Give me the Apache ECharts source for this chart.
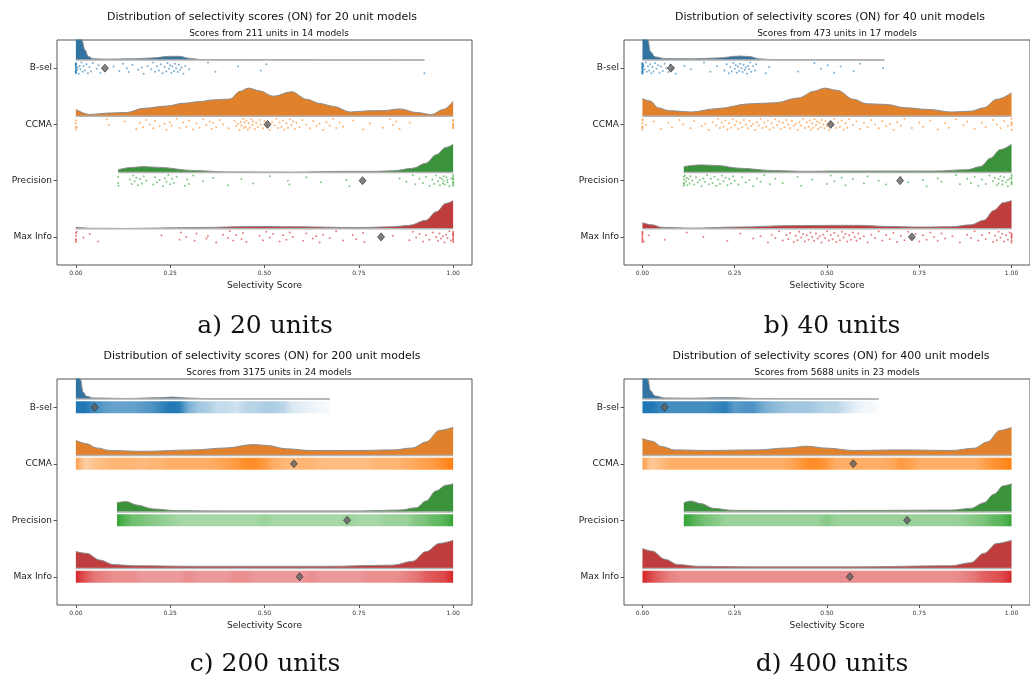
<!DOCTYPE html>
<html>
<head>
<meta charset="utf-8">
<script src="https://cdn.jsdelivr.net/npm/echarts@6/dist/echarts.min.js"></script>
<style>
  html, body { margin: 0; padding: 0; background: #fff; }
  #chart { width: 1030px; height: 675px; }
</style>
</head>
<body>
<div id="chart"></div>
<script>
// 行名 / 刻度
var rows = ['B-sel', 'CCMA', 'Precision', 'Max Info']
var xTicks = [0, 0.25, 0.5, 0.75, 1]
var binX = [0, .025, .05, .075, .1, .125, .15, .175, .2, .225, .25, .275, .3, .325, .35, .375, .4, .425, .45, .475, .5,
  .525, .55, .575, .6, .625, .65, .675, .7, .725, .75, .775, .8, .825, .85, .875, .9, .925, .95, .975, 1]

// 云图 (score, 相对高度)
// a) 20 units
var cloudA_bsel = [[0, 1], [0.01, 0.85], [0.016, 0.7], [0.024, 0.36], [0.033, 0.12], [0.046, 0.04], [0.08, 0.03], [0.15, 0.04], [0.2, 0.07], [0.25, 0.13], [0.275, 0.13], [0.3, 0.06], [0.33, 0.015], [0.5, 0.01], [0.7, 0.003], [0.924, 0]]
var cloudA_ccma = [[0, 0.24], [0.037, 0.06], [0.081, 0.11], [0.134, 0.13], [0.179, 0.28], [0.24, 0.36], [0.285, 0.46], [0.329, 0.52], [0.364, 0.58], [0.408, 0.61], [0.435, 0.88], [0.457, 1], [0.488, 0.9], [0.523, 0.71], [0.572, 0.87], [0.612, 0.6], [0.647, 0.45], [0.683, 0.35], [0.727, 0.15], [0.771, 0.19], [0.815, 0.2], [0.859, 0.26], [0.904, 0.13], [0.943, 0.06], [0.974, 0.24], [1, 0.53]]
var cloudA_prec = [[0.112, 0.1], [0.15, 0.18], [0.178, 0.21], [0.222, 0.18], [0.311, 0.07], [0.399, 0.02], [0.575, 0.01], [0.708, 0.04], [0.796, 0.04], [0.84, 0.06], [0.893, 0.15], [0.928, 0.33], [0.955, 0.63], [0.981, 0.89], [1, 1]]
var cloudA_max = [[0, 0.05], [0.046, 0.015], [0.134, 0.01], [0.311, 0.04], [0.487, 0.08], [0.575, 0.07], [0.752, 0.04], [0.84, 0.07], [0.884, 0.12], [0.928, 0.3], [0.955, 0.6], [0.981, 0.9], [1, 1]]
// b) 40 units
var cloudB_bsel = [[0, 1], [0.015, 0.71], [0.021, 0.31], [0.034, 0.11], [0.061, 0.05], [0.131, 0.04], [0.202, 0.07], [0.264, 0.14], [0.29, 0.12], [0.317, 0.04], [0.352, 0.01], [0.5, 0.005], [0.656, 0]]
var cloudB_ccma = [[0, 0.63], [0.021, 0.54], [0.043, 0.3], [0.07, 0.2], [0.131, 0.15], [0.202, 0.27], [0.29, 0.44], [0.361, 0.48], [0.422, 0.65], [0.466, 0.89], [0.493, 1], [0.528, 0.92], [0.572, 0.6], [0.608, 0.44], [0.66, 0.42], [0.713, 0.3], [0.775, 0.24], [0.837, 0.15], [0.89, 0.18], [0.925, 0.3], [0.96, 0.6], [1, 0.83]]
var cloudB_prec = [[0.112, 0.21], [0.158, 0.27], [0.202, 0.25], [0.264, 0.15], [0.352, 0.07], [0.44, 0.04], [0.528, 0.05], [0.66, 0.05], [0.793, 0.05], [0.881, 0.1], [0.916, 0.21], [0.943, 0.51], [0.969, 0.81], [1, 1]]
var cloudB_max = [[0, 0.21], [0.026, 0.14], [0.052, 0.05], [0.131, 0.02], [0.264, 0.06], [0.396, 0.11], [0.528, 0.12], [0.59, 0.12], [0.66, 0.08], [0.749, 0.06], [0.837, 0.07], [0.89, 0.14], [0.925, 0.3], [0.952, 0.65], [0.978, 0.93], [1, 1]]
// c) 200 units
var cloudC_bsel = [[0, 1], [0.012, 0.71], [0.019, 0.25], [0.028, 0.1], [0.046, 0.04], [0.134, 0.02], [0.222, 0.05], [0.258, 0.07], [0.293, 0.04], [0.355, 0.01], [0.673, 0]]
var cloudC_ccma = [[0, 0.54], [0.028, 0.42], [0.055, 0.27], [0.09, 0.18], [0.178, 0.15], [0.311, 0.2], [0.399, 0.27], [0.47, 0.39], [0.505, 0.36], [0.558, 0.24], [0.62, 0.18], [0.752, 0.18], [0.84, 0.2], [0.893, 0.27], [0.928, 0.48], [0.964, 0.89], [1, 1]]
var cloudC_prec = [[0.109, 0.33], [0.134, 0.37], [0.161, 0.25], [0.205, 0.11], [0.267, 0.05], [0.399, 0.04], [0.575, 0.04], [0.752, 0.04], [0.858, 0.07], [0.902, 0.15], [0.928, 0.39], [0.955, 0.75], [0.981, 0.95], [1, 1]]
var cloudC_max = [[0, 0.6], [0.028, 0.54], [0.064, 0.3], [0.099, 0.14], [0.152, 0.1], [0.311, 0.08], [0.487, 0.08], [0.664, 0.08], [0.84, 0.12], [0.893, 0.26], [0.928, 0.6], [0.964, 0.89], [1, 1]]
// d) 400 units
var cloudD_bsel = [[0, 1], [0.015, 0.71], [0.021, 0.31], [0.034, 0.11], [0.061, 0.04], [0.131, 0.03], [0.22, 0.05], [0.246, 0.05], [0.308, 0.02], [0.45, 0.01], [0.64, 0]]
var cloudD_ccma = [[0, 0.6], [0.026, 0.51], [0.052, 0.32], [0.087, 0.2], [0.175, 0.18], [0.308, 0.2], [0.396, 0.27], [0.444, 0.33], [0.502, 0.26], [0.572, 0.18], [0.705, 0.2], [0.837, 0.18], [0.899, 0.26], [0.934, 0.48], [0.969, 0.89], [1, 1]]
var cloudD_prec = [[0.112, 0.33], [0.131, 0.39], [0.158, 0.3], [0.193, 0.13], [0.246, 0.06], [0.396, 0.05], [0.66, 0.06], [0.837, 0.07], [0.89, 0.13], [0.925, 0.33], [0.952, 0.63], [0.978, 0.93], [1, 1]]
var cloudD_max = [[0, 0.71], [0.026, 0.62], [0.061, 0.33], [0.096, 0.14], [0.149, 0.08], [0.308, 0.06], [0.572, 0.06], [0.837, 0.1], [0.89, 0.21], [0.925, 0.54], [0.96, 0.89], [1, 1]]

// 散点 (a, b)
var ptsA_bsel = [0, 0, 0, 0, 0, 0, 0, 0, 0, 0, 0, 0, 0, 0, 0, .003, .005, .008, .01, .012, .015, .018, .02, .024, .028, .032, .036, .04, .045, .055, .06, .065, .1, .115, .125, .135, .14, .15, .165, .175, .18, .19, .2, .205, .21, .215, .22, .225, .23, .235, .24, .243, .247, .25, .253, .256, .26, .263, .266, .27, .273, .276, .28, .285, .29, .3, .35, .37, .43, .49, .505, .924]
var ptsA_ccma = [0, 0, 0, 0, .003, .082, .087, .13, .16, .17, .178, .187, .196, .205, .21, .222, .235, .24, .249, .253, .267, .275, .284, .293, .3, .311, .32, .328, .337, .346, .355, .36, .364, .372, .381, .39, .405, .421, .425, .43, .434, .437, .439, .443, .445, .447, .45, .452, .456, .458, .461, .465, .468, .47, .474, .478, .482, .487, .49, .496, .5, .505, .51, .514, .52, .527, .532, .536, .54, .545, .549, .553, .558, .562, .567, .571, .576, .58, .585, .593, .6, .611, .62, .629, .638, .646, .655, .664, .673, .682, .69, .699, .708, .735, .761, .779, .814, .832, .84, .849, .858, .885, 1, 1, 1, 1, 1, 1, 1]
var ptsA_prec = [.112, .112, .113, .143, .148, .152, .156, .16, .165, .17, .175, .18, .187, .205, .21, .215, .222, .231, .236, .24, .245, .25, .255, .26, .267, .289, .295, .3, .311, .337, .364, .403, .439, .47, .514, .562, .566, .611, .65, .717, .725, .858, .876, .893, .9, .911, .92, .928, .937, .945, .95, .955, .96, .965, .965, .97, .973, .975, .975, .978, .982, .985, .985, .99, .995, 1, 1, 1, 1, 1, 1, 1, 1]
var ptsA_max = [0, 0, 0, 0, 0, .002, .02, .037, .059, .227, .275, .279, .293, .315, .32, .346, .35, .372, .39, .403, .408, .417, .425, .439, .443, .452, .487, .496, .505, .514, .523, .54, .549, .558, .567, .575, .602, .611, .628, .637, .646, .655, .673, .69, .708, .734, .743, .761, .765, .84, .884, .893, .902, .911, .92, .928, .937, .946, .955, .96, .964, .968, .973, .977, .981, .985, .99, .994, 1, 1, 1, 1, 1, 1, 1, 1, 1]
var ptsB_bsel = [0, 0, 0, 0, 0, 0, 0, 0, 0, 0, 0, 0, 0, 0, 0, 0, 0, 0, .003, .006, .009, .012, .015, .018, .021, .024, .027, .03, .034, .038, .042, .046, .05, .055, .06, .065, .07, .075, .08, .085, .09, .114, .131, .167, .184, .202, .222, .228, .234, .238, .242, .246, .25, .253, .256, .259, .262, .265, .268, .271, .274, .277, .28, .283, .286, .289, .292, .295, .3, .305, .308, .334, .343, .422, .466, .484, .502, .519, .537, .572, .59, .652]
var ptsB_ccma = [0, 0, 0, 0, 0, 0, .01, .03, .05, .07, .08, .1, .11, .13, .14, .16, .17, .18, .19, .2, .205, .21, .215, .22, .225, .23, .235, .24, .245, .25, .255, .26, .265, .27, .275, .28, .285, .29, .295, .3, .305, .31, .315, .32, .325, .33, .335, .34, .345, .35, .355, .36, .365, .37, .375, .38, .385, .39, .395, .4, .405, .41, .415, .42, .425, .43, .435, .44, .445, .45, .453, .456, .46, .463, .466, .47, .473, .476, .48, .483, .486, .49, .493, .496, .5, .503, .506, .51, .515, .52, .525, .53, .535, .54, .545, .55, .555, .56, .57, .58, .59, .6, .61, .62, .63, .64, .65, .66, .67, .68, .69, .7, .71, .73, .75, .76, .78, .8, .82, .83, .85, .87, .88, .9, .92, .93, .95, .96, .97, .98, .99, 1, 1, 1, 1, 1]
var ptsB_prec = [.112, .112, .112, .113, .113, .115, .118, .12, .122, .125, .128, .13, .135, .14, .145, .15, .155, .16, .165, .17, .175, .18, .185, .19, .195, .2, .205, .21, .215, .22, .225, .23, .235, .24, .245, .25, .26, .27, .28, .29, .3, .31, .32, .33, .345, .36, .38, .42, .43, .46, .5, .51, .52, .54, .55, .57, .6, .61, .64, .66, .7, .72, .76, .77, .8, .81, .85, .86, .88, .89, .9, .91, .92, .93, .94, .95, .955, .96, .965, .965, .97, .975, .975, .98, .985, .99, .99, .995, 1, 1, 1, 1, 1, 1]
var ptsB_max = [0, 0, 0, 0, 0, 0, 0, 0, .003, .017, .06, .12, .165, .23, .265, .3, .32, .34, .35, .36, .37, .38, .39, .395, .4, .41, .415, .42, .425, .43, .435, .44, .445, .45, .455, .46, .465, .47, .475, .48, .485, .49, .495, .5, .505, .51, .515, .52, .525, .53, .535, .54, .545, .55, .555, .56, .565, .57, .575, .58, .585, .59, .6, .61, .62, .63, .64, .65, .66, .67, .68, .69, .7, .71, .72, .73, .74, .75, .76, .77, .78, .79, .8, .81, .82, .84, .86, .88, .89, .9, .91, .92, .93, .94, .95, .955, .96, .965, .97, .975, .98, .985, .99, .995, 1, 1, 1, 1, 1, 1, 1]

// 密集散点带 (c, d): 每个 binX 的浓度
var binsC_bsel = [1, .95, .8, .7, .65, .65, .65, .7, .75, .85, .95, .9, .55, .4, .35, .25, .25, .2, .3, .3, .35, .35, .3, .15, .12, .08, .05, .03, 0, 0, 0, 0, 0, 0, 0, 0, 0, 0, 0, 0, 0]
var binsC_ccma = [.7, .35, .45, .5, .55, .55, .55, .5, .55, .55, .6, .6, .6, .6, .6, .65, .7, .75, .85, .85, .75, .6, .55, .5, .55, .55, .5, .5, .5, .5, .5, .5, .55, .55, .55, .6, .65, .7, .75, .85, .95]
var binsC_prec = [0, 0, 0, 0, .9, .8, .65, .6, .55, .5, .45, .4, .4, .4, .4, .4, .4, .4, .4, .4, .45, .4, .4, .4, .4, .4, .4, .4, .4, .45, .4, .4, .4, .45, .45, .45, .55, .6, .7, .75, .9]
var binsC_max = [.95, .75, .6, .55, .5, .5, .5, .45, .45, .45, .45, .45, .5, .45, .45, .45, .45, .5, .5, .45, .45, .45, .45, .45, .45, .5, .45, .45, .45, .45, .45, .5, .5, .5, .5, .55, .6, .7, .75, .8, .95]
var binsD_bsel = [1, .95, .85, .8, .8, .8, .8, .8, .85, .9, .7, .75, .75, .6, .5, .45, .4, .4, .4, .35, .3, .3, .2, .12, .06, .04, .02, 0, 0, 0, 0, 0, 0, 0, 0, 0, 0, 0, 0, 0, 0]
var binsD_ccma = [.7, .4, .5, .6, .6, .6, .6, .6, .6, .6, .6, .6, .6, .6, .6, .6, .65, .75, .85, .85, .75, .6, .6, .6, .6, .6, .6, .65, .75, .7, .6, .6, .6, .6, .6, .6, .6, .7, .8, .85, .95]
var binsD_prec = [0, 0, 0, 0, .9, .85, .7, .6, .55, .45, .45, .45, .45, .45, .45, .45, .45, .45, .45, .45, .55, .45, .45, .45, .45, .45, .45, .45, .45, .45, .45, .45, .45, .45, .45, .5, .55, .6, .7, .75, .9]
var binsD_max = [1, .8, .65, .55, .5, .5, .5, .5, .5, .5, .5, .5, .5, .5, .5, .5, .5, .5, .5, .5, .5, .5, .5, .5, .5, .5, .5, .5, .5, .5, .5, .5, .5, .5, .5, .55, .6, .7, .75, .8, .95]

// 均值
var meansA = [0.077, 0.508, 0.76, 0.809]
var meansB = [0.077, 0.51, 0.698, 0.73]
var meansC = [0.05, 0.578, 0.719, 0.593]
var meansD = [0.06, 0.571, 0.717, 0.562]

/****** 样式 ******/
var cloudColors = ['#3274a1', '#e1812c', '#3a923a', '#c03d3e']
var pointRgb = [[31, 119, 180], [255, 127, 14], [44, 160, 44], [214, 39, 40]]
var jitter = [0.04, -0.07, 0.09, -0.02, 0.06, -0.09, 0.01, -0.05, 0.08, -0.03, 0.05, -0.08, 0.0, 0.07, -0.06, 0.03, -0.01, 0.1, -0.04, 0.02, -0.1, 0.065, -0.035]
var cloudOffset = 0.145, cloudScale = 0.5, stripHalf = 0.105

function rgba(c, a) { return 'rgba(' + c[0] + ',' + c[1] + ',' + c[2] + ',' + a + ')' }

var panels = [
  { n: 20, units: 211, models: 14, clouds: [cloudA_bsel, cloudA_ccma, cloudA_prec, cloudA_max], pts: [ptsA_bsel, ptsA_ccma, ptsA_prec, ptsA_max], means: meansA,
    caption: 'a) 20 units', grid: { left: 57, top: 40, width: 415, height: 225 }, titleX: 257, subX: 264, titleY: 7, capY: 309 },
  { n: 40, units: 473, models: 17, clouds: [cloudB_bsel, cloudB_ccma, cloudB_prec, cloudB_max], pts: [ptsB_bsel, ptsB_ccma, ptsB_prec, ptsB_max], means: meansB,
    caption: 'b) 40 units', grid: { left: 624, top: 40, width: 416, height: 225 }, titleX: 825, subX: 832, titleY: 7, capY: 309 },
  { n: 200, units: 3175, models: 24, clouds: [cloudC_bsel, cloudC_ccma, cloudC_prec, cloudC_max], bins: [binsC_bsel, binsC_ccma, binsC_prec, binsC_max], means: meansC,
    caption: 'c) 200 units', grid: { left: 57, top: 379, width: 415, height: 226 }, titleX: 257, subX: 264, titleY: 346, capY: 647 },
  { n: 400, units: 5688, models: 23, clouds: [cloudD_bsel, cloudD_ccma, cloudD_prec, cloudD_max], bins: [binsD_bsel, binsD_ccma, binsD_prec, binsD_max], means: meansD,
    caption: 'd) 400 units', grid: { left: 624, top: 379, width: 416, height: 226 }, titleX: 826, subX: 832, titleY: 346, capY: 647 }
]

var option = {
  animation: false,
  backgroundColor: '#fff',
  textStyle: { fontFamily: 'DejaVu Sans' },
  title: [], grid: [], xAxis: [], yAxis: [], series: []
}

panels.forEach(function (p, k) {
  var capX = p.grid.left + 203
  option.title.push({ text: 'Distribution of selectivity scores (ON) for ' + p.n + ' unit models', left: p.titleX, top: p.titleY, textAlign: 'center',
    textStyle: { fontSize: 11, fontWeight: 'normal', color: '#111' } })
  option.title.push({ text: 'Scores from ' + p.units + ' units in ' + p.models + ' models', left: p.subX, top: p.titleY + 17, textAlign: 'center',
    textStyle: { fontSize: 9, fontWeight: 'normal', color: '#111' } })
  option.title.push({ text: p.caption, left: capX, top: p.capY, textAlign: 'center',
    textStyle: { fontSize: 25, fontWeight: 'normal', color: '#111', fontFamily: 'DejaVu Serif' } })

  option.grid.push(Object.assign({ show: true, borderColor: '#555', borderWidth: 1, backgroundColor: 'transparent' }, p.grid))
  option.xAxis.push({
    gridIndex: k, type: 'value', min: -0.05, max: 1.05,
    name: 'Selectivity Score', nameLocation: 'middle', nameGap: 16, nameTextStyle: { fontSize: 9, color: '#222' },
    axisLine: { show: false, onZero: false },
    axisTick: { show: true, customValues: xTicks, length: 3, lineStyle: { color: '#555' } },
    axisLabel: { customValues: xTicks, fontSize: 6, color: '#333', margin: 5, formatter: function (v) { return v.toFixed(2) } },
    splitLine: { show: false }
  })
  option.yAxis.push({
    gridIndex: k, type: 'category', data: rows, inverse: true,
    axisLine: { show: false, onZero: false },
    axisTick: { show: true, alignWithLabel: true, length: 3.5, lineStyle: { color: '#555' } },
    axisLabel: { fontSize: 9, color: '#222', margin: 5 },
    splitLine: { show: false }
  })
  option.yAxis.push({ gridIndex: k, type: 'value', min: -0.5, max: 3.5, inverse: true, show: false })

  var yi = 2 * k + 1
  p.clouds.forEach(function (c, r) {
    var base = r - cloudOffset
    var start = c[0][0], end = c[c.length - 1][0]
    // 云
    option.series.push({
      type: 'line', xAxisIndex: k, yAxisIndex: yi, silent: true, z: 2,
      data: c.map(function (d) { return [d[0], base - d[1] * cloudScale] }),
      smooth: 0.35, smoothMonotone: 'x', symbol: 'none', clip: true,
      lineStyle: { color: '#8c8c8c', width: 1 },
      areaStyle: { color: cloudColors[r], opacity: 1, origin: base }
    })
    option.series.push({
      type: 'line', xAxisIndex: k, yAxisIndex: yi, silent: true, z: 3,
      data: [[start, base], [end, base]], symbol: 'none',
      lineStyle: { color: '#b3b3b3', width: 1.5 }
    })
    // 雨
    if (p.pts) {
      option.series.push({
        type: 'scatter', xAxisIndex: k, yAxisIndex: yi, silent: true, z: 3,
        data: p.pts[r].map(function (v, i) { return [v, r + jitter[i % jitter.length]] }),
        symbol: 'circle', symbolSize: 2,
        itemStyle: { color: rgba(pointRgb[r], 1), opacity: 0.6 }
      })
    } else {
      var bins = p.bins[r]
      option.series.push({
        type: 'custom', xAxisIndex: k, yAxisIndex: yi, silent: true, z: 3,
        data: [[start, end, r]],
        renderItem: function (params, api) {
          var lo = api.value(0), hi = api.value(1), row = api.value(2)
          var p0 = api.coord([lo, row - stripHalf]), p1 = api.coord([hi, row + stripHalf])
          var stops = []
          binX.forEach(function (x, i) {
            if (x < lo - 0.0125 || x > hi + 0.0125) return
            var off = Math.min(1, Math.max(0, (x - lo) / (hi - lo)))
            stops.push({ offset: off, color: rgba(pointRgb[row], Math.min(1, bins[i] * 1.05).toFixed(3)) })
          })
          return { type: 'rect', shape: { x: p0[0], y: p0[1], width: p1[0] - p0[0], height: p1[1] - p0[1] },
            style: { fill: new echarts.graphic.LinearGradient(0, 0, 1, 0, stops) } }
        }
      })
    }
  })
  // 均值
  option.series.push({
    type: 'scatter', xAxisIndex: k, yAxisIndex: yi, silent: true, z: 6,
    data: p.means.map(function (m, r) { return [m, r] }),
    symbol: 'diamond', symbolSize: [7, 8],
    itemStyle: { color: '#606060', borderColor: '#2a2a2a', borderWidth: 0.8 }
  })
})

var chart = echarts.init(document.getElementById('chart'), null, { renderer: 'canvas' })
chart.setOption(option)
</script>
</body>
</html>
